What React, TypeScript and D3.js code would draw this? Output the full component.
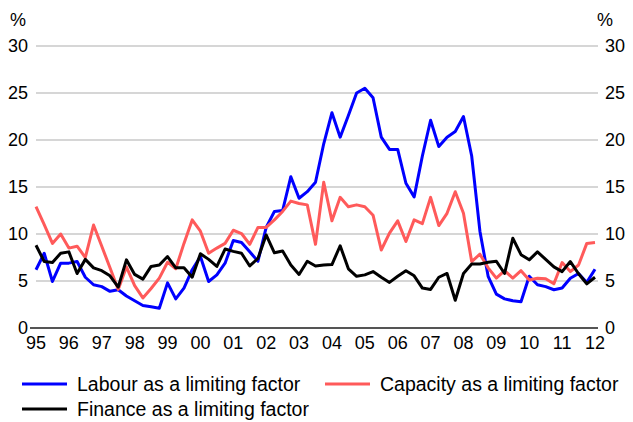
import React from "react";
import * as d3 from "d3";

const startYear = 1995;
const yearTicks = [1995,1996,1997,1998,1999,2000,2001,2002,2003,2004,2005,2006,2007,2008,2009,2010,2011,2012];
const yTicks = [0, 5, 10, 15, 20, 25, 30];

const labour = [6.2,7.95,4.95,6.9,6.9,7.07,5.4,4.6,4.4,3.9,4.07,3.4,2.9,2.4,2.25,2.1,4.8,3.1,4.25,6.2,7.6,4.95,5.65,6.9,9.3,9.1,8.1,7.1,10.7,12.4,12.5,16.1,13.8,14.5,15.5,19.6,22.9,20.3,22.6,25.0,25.5,24.5,20.3,19.0,19.0,15.4,13.95,18.3,22.1,19.3,20.3,20.9,22.5,18.3,10.3,5.5,3.6,3.1,2.9,2.8,5.5,4.6,4.4,4.07,4.25,5.3,5.8,4.85,6.25];
const capacity = [12.9,11.0,9.0,10.0,8.5,8.7,7.5,10.95,8.7,6.4,4.1,6.5,4.5,3.2,4.2,5.3,7.0,6.3,9.0,11.5,10.3,7.95,8.5,9.0,10.4,10.05,8.9,10.7,10.7,11.5,12.4,13.5,13.25,13.1,8.9,15.5,11.4,13.9,12.9,13.1,12.9,12.0,8.3,10.1,11.4,9.2,11.5,11.1,13.9,10.9,12.2,14.5,12.2,7.07,7.85,6.4,5.3,6.1,5.3,6.1,5.1,5.3,5.25,4.7,6.96,6.0,6.7,9.0,9.1];
const finance = [8.8,7.07,6.97,7.95,8.1,5.8,7.3,6.4,6.1,5.55,4.35,7.25,5.7,5.2,6.55,6.7,7.6,6.4,6.4,5.4,7.9,7.3,6.55,8.4,8.15,7.95,6.6,7.4,9.9,8.0,8.2,6.7,5.7,7.1,6.6,6.7,6.75,8.75,6.3,5.5,5.65,6.0,5.4,4.85,5.5,6.1,5.55,4.25,4.1,5.4,5.8,2.95,5.8,6.8,6.8,7.0,7.1,5.8,9.55,7.8,7.25,8.1,7.3,6.5,6.0,7.07,5.77,4.7,5.4];

const seriesNames = ["Labour as a limiting factor", "Capacity as a limiting factor", "Finance as a limiting factor"];
const seriesColors = ["#0000ff", "#ff5a5a", "#000000"];

export default function App() {
  const W = 633, H = 422;
  const x = d3.scaleLinear().domain([1995, 2012]).range([36, 595]);
  const y = d3.scaleLinear().domain([0, 30]).range([328, 46]);
  const line = d3.line<number>().x((_, i) => x(startYear + i / 4)).y((d) => y(d));
  const all = [labour, capacity, finance];
  const font = "'Liberation Sans', Arial, sans-serif";
  const legend = [
    { name: seriesNames[0], color: seriesColors[0], lx: 22, ly: 384 },
    { name: seriesNames[1], color: seriesColors[1], lx: 325, ly: 384 },
    { name: seriesNames[2], color: seriesColors[2], lx: 22, ly: 409 },
  ];
  return (
    <svg width={W} height={H} style={{ position: "absolute", left: 0, top: 0, background: "#fff" }} fontFamily={font}>
      {yTicks.filter((t) => t > 0).map((t) => (
        <line key={t} x1={36} x2={598} y1={y(t)} y2={y(t)} stroke="#c8c8c8" strokeWidth={1.5} />
      ))}
      {yTicks.map((t) => (
        <g key={"l" + t}>
          <text x={28} y={y(t)} dy="0.36em" textAnchor="end" fontSize={18} fill="#000">{t}</text>
          <text x={605} y={y(t)} dy="0.36em" textAnchor="start" fontSize={18} fill="#000">{t}</text>
        </g>
      ))}
      <text x={10} y={20} dy="0.36em" fontSize={18}>%</text>
      <text x={597} y={20} dy="0.36em" fontSize={18}>%</text>
      {all.map((s, k) => (
        <path key={k} d={line(s) || ""} fill="none" stroke={seriesColors[k]} strokeWidth={3} strokeLinejoin="round" />
      ))}
      <line x1={30} x2={598} y1={y(0)} y2={y(0)} stroke="#555" strokeWidth={2} />
      {yearTicks.map((t) => (
        <text key={t} x={x(t)} y={343} dy="0.36em" textAnchor="middle" fontSize={18}>
          {String(t % 100).padStart(2, "0")}
        </text>
      ))}
      {legend.map((l) => (
        <g key={l.name}>
          <line x1={l.lx} x2={l.lx + 45} y1={l.ly} y2={l.ly} stroke={l.color} strokeWidth={3} />
          <text x={l.lx + 55} y={l.ly} dy="0.36em" fontSize={19.5}>{l.name}</text>
        </g>
      ))}
    </svg>
  );
}
